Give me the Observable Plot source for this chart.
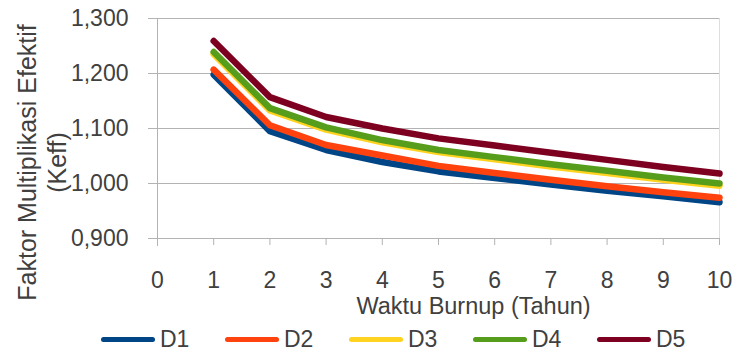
<!DOCTYPE html>
<html>
<head>
<meta charset="utf-8">
<script src="https://cdn.jsdelivr.net/npm/d3@7"></script>
<script src="https://cdn.jsdelivr.net/npm/@observablehq/plot@0.6"></script>
<style>
  html, body { margin: 0; padding: 0; background: #fff; }
  #chart { width: 737px; font-family: "Liberation Sans", Arial, sans-serif; color: #404040; }
  #legend { display: flex; height: 35px; align-items: center; padding-left: 101px; margin-top: 4px; }
  .item { display: flex; align-items: center; width: 124px; font-size: 23px; }
  .swatch { width: 54px; height: 5px; border-radius: 3px; margin-right: 5px; }
</style>
</head>
<body>
<div id="chart"></div>
<script>
// Burnup time (years) and effective multiplication factor per design
const years = [1, 2, 3, 4, 5, 6, 7, 8, 9, 10];
const D1 = [1.198, 1.095, 1.061, 1.039, 1.022, 1.010, 0.998, 0.987, 0.977, 0.966];
const D2 = [1.207, 1.106, 1.070, 1.051, 1.032, 1.019, 1.007, 0.995, 0.984, 0.974];
const D3 = [1.235, 1.133, 1.098, 1.075, 1.057, 1.044, 1.031, 1.019, 1.007, 0.996];
const D4 = [1.239, 1.137, 1.102, 1.079, 1.061, 1.048, 1.035, 1.023, 1.011, 1.000];
const D5 = [1.259, 1.157, 1.121, 1.100, 1.082, 1.069, 1.056, 1.043, 1.030, 1.018];

const seriesNames = ["D1", "D2", "D3", "D4", "D5"];
const seriesValues = [D1, D2, D3, D4, D5];
const colors = ["#004586", "#ff420e", "#ffd320", "#579d1c", "#7e0021"];

const xTicks = [0, 1, 2, 3, 4, 5, 6, 7, 8, 9, 10];
const yTicks = [0.9, 1.0, 1.1, 1.2, 1.3];
const xTitle = "Waktu Burnup (Tahun)";
const yTitle = "Faktor Multiplikasi Efektif\n(Keff)";

const rows = seriesNames.flatMap((name, i) =>
  years.map((t, j) => ({series: name, t, k: seriesValues[i][j]}))
);

const axisGrey = "#b3b3b3";
const textGrey = "#404040";
const fmt = d => d.toFixed(3).replace(".", ",");

const chart = Plot.plot({
  width: 737,
  height: 318,
  marginLeft: 157,
  marginRight: 18,
  marginTop: 18,
  marginBottom: 80,
  style: {fontFamily: "Liberation Sans, Arial, sans-serif", fontSize: "23px", color: textGrey, background: "#fff", overflow: "visible"},
  x: {domain: [0, 10]},
  y: {domain: [0.9, 1.3]},
  color: {domain: seriesNames, range: colors},
  marks: [
    Plot.gridY(yTicks, {stroke: axisGrey, strokeOpacity: 1}),
    Plot.ruleX([10], {stroke: "#dedede"}),
    Plot.ruleX([0], {stroke: axisGrey, insetBottom: -8}),
    Plot.ruleY([0.9], {stroke: axisGrey}),
    Plot.axisY(yTicks, {tickSize: 9, tickPadding: 20, tickFormat: fmt, stroke: axisGrey, fill: textGrey, label: null, fontSize: 23}),
    Plot.axisX(xTicks, {tickSize: 7, tickPadding: 26, tickFormat: d => String(d), stroke: axisGrey, fill: textGrey, label: null, fontSize: 23}),
    Plot.line(rows, {x: "t", y: "k", z: "series", stroke: "series", strokeWidth: 6.5, strokeLinecap: "round", strokeLinejoin: "round"}),
    Plot.text([xTitle], {frameAnchor: "bottom", textAnchor: "middle", lineAnchor: "middle", dx: 35, dy: 68, fontSize: 23.5, fill: textGrey}),
    Plot.text([yTitle], {frameAnchor: "left", textAnchor: "middle", lineAnchor: "middle", rotate: -90, dx: -116, dy: 34, fontSize: 25, lineHeight: 1.2, fill: textGrey})
  ]
});

const root = document.getElementById("chart");
root.appendChild(chart);

const legend = document.createElement("div");
legend.id = "legend";
seriesNames.forEach((name, i) => {
  const item = document.createElement("div");
  item.className = "item";
  const sw = document.createElement("span");
  sw.className = "swatch";
  sw.style.background = colors[i];
  const label = document.createElement("span");
  label.textContent = name;
  item.appendChild(sw);
  item.appendChild(label);
  legend.appendChild(item);
});
root.appendChild(legend);
</script>
</body>
</html>
